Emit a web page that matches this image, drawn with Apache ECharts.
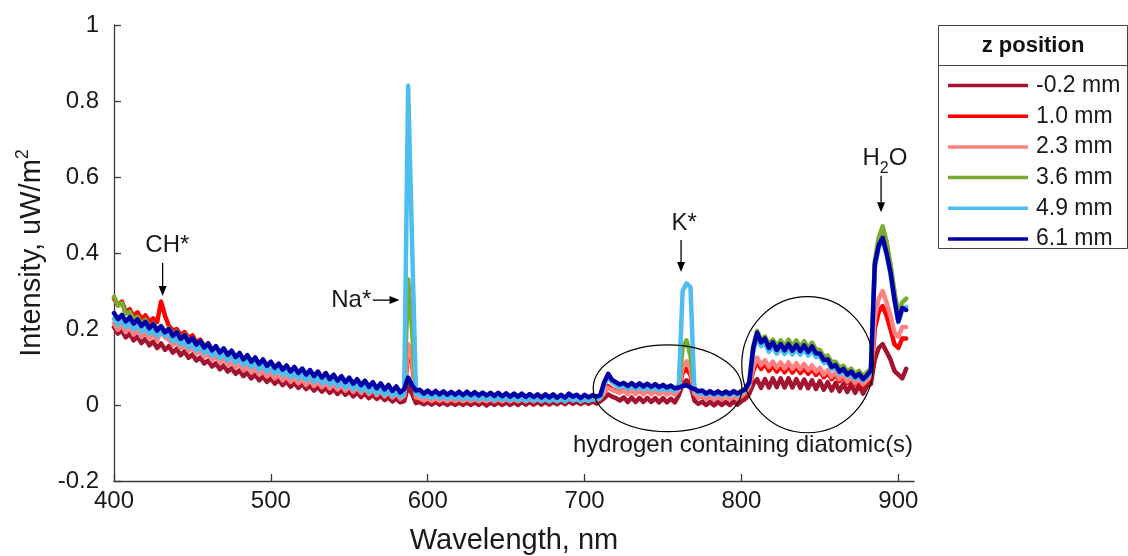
<!DOCTYPE html>
<html>
<head>
<meta charset="utf-8">
<title>Emission spectra by z position</title>
<script src="https://cdn.jsdelivr.net/npm/echarts@6/dist/echarts.min.js"></script>
<style>
  html, body { margin: 0; padding: 0; background: #fff; }
  #chart { width: 1128px; height: 556px; }
</style>
</head>
<body>
<div id="chart"></div>
<script>
// Spectrometer sampling grid: 400 nm to 905 nm, 2.5 nm per sample (203 samples).
const waveStart = 400;
const waveStep = 2.5;
const sampleCount = 203;
const wavelength = Array.from({ length: sampleCount }, (_, i) => waveStart + waveStep * i);

// Measured intensity (uW/m^2) at each sample, one array per probe z position.
const zNeg02 = [
  .205,.188,.196,.178,.188,.170,.180,.163,.174,.157,
  .167,.150,.162,.145,.155,.138,.148,.131,.141,.124,
  .133,.117,.125,.109,.117,.101,.110,.094,.104,.088,
  .097,.082,.091,.076,.085,.070,.080,.065,.075,.061,
  .070,.056,.066,.052,.062,.048,.058,.045,.055,.042,
  .051,.038,.048,.035,.045,.032,.042,.029,.040,.027,
  .036,.023,.033,.021,.030,.018,.027,.016,.024,.013,
  .020,.009,.017,.007,.010,.050,.030,.005,.008,.002,
  .008,.001,.008,.001,.007,.000,.007,.000,.007,.000,
  .007,.000,.007,.000,.007,-.001,.007,.000,.007,.000,
  .007,.000,.007,.000,.008,.001,.008,.001,.008,.001,
  .008,.001,.008,.002,.009,.002,.010,.003,.009,.002,
  .009,.003,.009,.004,.010,.018,.028,.022,.018,.012,
  .020,.008,.020,.008,.019,.008,.019,.008,.018,.007,
  .018,.007,.017,.007,.025,.055,.065,.055,.012,.003,
  .009,.000,.008,-.001,.008,.000,.008,.000,.009,.001,
  .010,.016,.030,.055,.068,.045,.068,.046,.070,.047,
  .070,.046,.070,.046,.068,.045,.067,.044,.065,.042,
  .063,.040,.060,.038,.058,.036,.056,.034,.054,.032,
  .052,.030,.050,.055,.120,.150,.160,.140,.120,.090,
  .080,.070,.095
];
const z10 = [
  .280,.262,.272,.245,.252,.232,.244,.226,.236,.219,
  .228,.218,.272,.235,.208,.196,.200,.184,.192,.176,
  .183,.165,.172,.154,.162,.144,.152,.135,.143,.126,
  .133,.115,.124,.106,.114,.097,.105,.089,.097,.082,
  .089,.074,.083,.068,.077,.063,.072,.058,.067,.054,
  .063,.050,.060,.047,.056,.044,.053,.041,.050,.038,
  .046,.034,.043,.031,.040,.028,.037,.025,.034,.022,
  .031,.019,.028,.016,.022,.140,.110,.018,.016,.011,
  .016,.009,.016,.009,.015,.009,.015,.009,.015,.009,
  .015,.009,.015,.009,.015,.009,.015,.009,.015,.009,
  .015,.009,.015,.010,.016,.010,.016,.010,.016,.010,
  .016,.010,.016,.010,.016,.011,.018,.012,.017,.011,
  .017,.011,.017,.013,.018,.035,.050,.042,.038,.033,
  .040,.031,.040,.031,.039,.030,.039,.030,.038,.030,
  .037,.029,.036,.029,.040,.085,.095,.080,.030,.020,
  .024,.016,.023,.015,.023,.015,.023,.016,.024,.017,
  .024,.030,.045,.090,.115,.095,.108,.090,.104,.088,
  .102,.086,.102,.085,.100,.084,.098,.082,.095,.079,
  .090,.073,.085,.068,.080,.063,.075,.058,.070,.054,
  .066,.050,.062,.070,.200,.245,.260,.235,.200,.160,
  .150,.175,.175
];
const z23 = [
  .215,.198,.210,.192,.204,.186,.198,.180,.192,.174,
  .186,.170,.196,.178,.172,.158,.165,.150,.158,.143,
  .151,.135,.143,.127,.135,.119,.128,.112,.121,.105,
  .115,.099,.108,.092,.102,.086,.096,.080,.090,.075,
  .085,.070,.080,.065,.076,.061,.072,.057,.068,.053,
  .065,.050,.062,.047,.059,.044,.056,.041,.053,.038,
  .050,.035,.047,.032,.044,.029,.041,.026,.038,.023,
  .034,.020,.031,.017,.024,.160,.120,.020,.018,.012,
  .018,.011,.018,.011,.017,.010,.017,.010,.017,.010,
  .017,.010,.017,.010,.016,.010,.016,.010,.016,.010,
  .016,.010,.016,.010,.016,.010,.016,.010,.016,.010,
  .016,.010,.016,.010,.016,.010,.018,.012,.016,.010,
  .016,.011,.016,.013,.018,.032,.045,.040,.036,.032,
  .038,.029,.038,.029,.037,.028,.037,.028,.036,.028,
  .035,.027,.034,.027,.040,.100,.115,.095,.030,.020,
  .024,.016,.023,.015,.023,.015,.023,.016,.024,.017,
  .025,.032,.050,.100,.125,.105,.118,.100,.114,.098,
  .112,.096,.112,.095,.110,.094,.108,.092,.104,.088,
  .098,.080,.092,.074,.086,.068,.080,.062,.075,.058,
  .070,.055,.066,.075,.230,.280,.300,.270,.235,.190,
  .180,.205,.205
];
const z36 = [
  .285,.262,.268,.240,.245,.225,.232,.213,.224,.205,
  .215,.198,.208,.192,.202,.184,.194,.176,.186,.168,
  .176,.158,.168,.150,.160,.142,.152,.135,.145,.128,
  .138,.121,.131,.114,.124,.107,.118,.101,.112,.095,
  .105,.089,.099,.083,.094,.078,.089,.073,.085,.069,
  .080,.064,.076,.060,.072,.056,.068,.052,.064,.049,
  .060,.045,.056,.041,.052,.037,.048,.033,.045,.030,
  .041,.028,.038,.025,.034,.330,.200,.032,.030,.024,
  .028,.020,.027,.019,.026,.018,.025,.018,.025,.017,
  .024,.017,.024,.016,.023,.016,.022,.015,.022,.015,
  .021,.014,.021,.014,.020,.013,.020,.013,.020,.013,
  .019,.012,.019,.012,.019,.012,.021,.014,.019,.012,
  .018,.013,.018,.016,.022,.054,.078,.064,.057,.052,
  .056,.048,.055,.047,.054,.046,.053,.045,.052,.044,
  .050,.043,.048,.042,.048,.150,.170,.130,.045,.034,
  .037,.030,.036,.029,.036,.029,.036,.030,.037,.031,
  .037,.043,.060,.155,.195,.172,.180,.160,.172,.155,
  .170,.154,.172,.155,.170,.153,.168,.150,.164,.146,
  .145,.128,.130,.112,.114,.098,.103,.088,.096,.082,
  .090,.076,.086,.095,.380,.440,.470,.430,.370,.300,
  .240,.270,.280
];
const z49 = [
  .227,.211,.222,.205,.216,.199,.210,.193,.204,.187,
  .198,.181,.195,.182,.186,.167,.177,.159,.169,.151,
  .161,.144,.154,.136,.147,.129,.140,.123,.134,.117,
  .128,.111,.122,.105,.116,.099,.110,.093,.105,.088,
  .099,.083,.094,.078,.089,.073,.085,.069,.081,.065,
  .077,.061,.073,.057,.069,.053,.065,.049,.061,.045,
  .057,.041,.053,.037,.049,.033,.045,.029,.042,.026,
  .038,.024,.034,.021,.030,.840,.430,.030,.027,.021,
  .026,.018,.025,.017,.024,.016,.023,.016,.023,.015,
  .022,.015,.022,.014,.021,.014,.020,.013,.020,.013,
  .019,.012,.019,.012,.018,.011,.018,.011,.018,.011,
  .017,.010,.017,.010,.017,.010,.019,.012,.017,.010,
  .016,.011,.016,.014,.020,.052,.075,.060,.052,.047,
  .051,.043,.050,.042,.049,.041,.048,.040,.047,.039,
  .045,.038,.043,.037,.045,.300,.320,.310,.040,.030,
  .033,.026,.032,.025,.031,.025,.031,.025,.032,.026,
  .032,.038,.055,.140,.180,.155,.165,.140,.155,.135,
  .150,.134,.150,.133,.148,.132,.147,.130,.144,.126,
  .128,.110,.113,.094,.099,.082,.089,.075,.082,.068,
  .077,.064,.074,.085,.360,.415,.435,.395,.345,.275,
  .218,.250,.258
];
const z61 = [
  .242,.226,.237,.220,.231,.214,.225,.208,.219,.202,
  .213,.196,.207,.191,.200,.182,.192,.174,.184,.166,
  .176,.159,.169,.151,.162,.144,.155,.138,.149,.132,
  .143,.126,.137,.120,.131,.114,.125,.108,.120,.103,
  .114,.098,.109,.093,.104,.088,.100,.084,.096,.080,
  .092,.076,.088,.072,.084,.068,.080,.064,.076,.060,
  .072,.056,.068,.052,.064,.048,.060,.044,.057,.041,
  .053,.037,.049,.033,.042,.072,.052,.038,.040,.030,
  .038,.029,.037,.028,.036,.027,.035,.027,.035,.026,
  .035,.026,.034,.025,.033,.025,.032,.024,.032,.023,
  .031,.022,.030,.022,.030,.021,.029,.021,.028,.020,
  .028,.020,.028,.019,.027,.019,.030,.022,.027,.018,
  .027,.020,.026,.022,.026,.060,.082,.066,.060,.054,
  .058,.050,.058,.049,.057,.049,.056,.048,.055,.047,
  .053,.046,.051,.044,.046,.050,.052,.046,.042,.036,
  .038,.030,.036,.029,.036,.029,.035,.029,.036,.030,
  .036,.042,.060,.150,.190,.165,.175,.150,.165,.145,
  .160,.144,.160,.143,.158,.142,.157,.140,.154,.136,
  .135,.118,.120,.100,.105,.088,.095,.080,.088,.074,
  .082,.068,.078,.090,.370,.420,.440,.400,.350,.280,
  .220,.255,.250
];

const seriesNames = ['-0.2 mm', '1.0 mm', '2.3 mm', '3.6 mm', '4.9 mm', '6.1 mm'];
const seriesValues = [zNeg02, z10, z23, z36, z49, z61];
const seriesColors = ['#A2142F', '#FF0000', '#FF8282', '#77AC30', '#4DBEEE', '#0000A6'];

const xTicks = [400, 500, 600, 700, 800, 900];
const yTickLabels = ['-0.2', '0', '0.2', '0.4', '0.6', '0.8', '1'];
const yMin = -0.2, yMax = 1, yStep = 0.2;

const FONT = '"Liberation Sans", Arial, Helvetica, sans-serif';
const AXIS_COLOR = '#3a3a3a';
const TEXT_COLOR = '#1a1a1a';

const chart = echarts.init(document.getElementById('chart'), null, { renderer: 'canvas' });

chart.setOption({
  animation: false,
  backgroundColor: '#ffffff',
  grid: { left: 114, right: 214, top: 25, bottom: 75, outerBoundsMode: 'none' },
  xAxis: {
    type: 'value',
    min: 400, max: 910, interval: 100,
    axisLine: { show: true, onZero: false, lineStyle: { color: AXIS_COLOR, width: 1.3 } },
    axisTick: { show: true, inside: true, length: 7, customValues: xTicks,
                lineStyle: { color: AXIS_COLOR, width: 1.3 } },
    axisLabel: { customValues: xTicks, margin: 8, fontSize: 24, color: TEXT_COLOR, fontFamily: FONT },
    splitLine: { show: false },
    name: 'Wavelength, nm',
    nameLocation: 'middle',
    nameGap: 45,
    nameTextStyle: { fontSize: 29, color: TEXT_COLOR, fontFamily: FONT }
  },
  yAxis: {
    type: 'value',
    min: yMin, max: yMax, interval: yStep,
    axisLine: { show: true, onZero: false, lineStyle: { color: AXIS_COLOR, width: 1.3 } },
    axisTick: { show: true, inside: true, length: 7, lineStyle: { color: AXIS_COLOR, width: 1.3 } },
    axisLabel: {
      margin: 15, fontSize: 24, color: TEXT_COLOR, fontFamily: FONT,
      formatter: v => yTickLabels[Math.round((v - yMin) / yStep)]
    },
    splitLine: { show: false },
    name: '{t|Intensity, uW/m}{sup|2}',
    nameLocation: 'middle',
    nameGap: 55,
    nameTextStyle: {
      color: TEXT_COLOR, fontFamily: FONT,
      rich: {
        t: { fontSize: 29, lineHeight: 36, verticalAlign: 'middle', fontFamily: FONT, color: TEXT_COLOR },
        sup: { fontSize: 18, lineHeight: 18, verticalAlign: 'top', fontFamily: FONT, color: TEXT_COLOR }
      }
    }
  },
  legend: {
    orient: 'vertical',
    left: 948, top: 74,
    padding: 0,
    itemWidth: 80, itemHeight: 3.5, itemGap: 7.7,
    icon: 'rect',
    selectedMode: false,
    data: seriesNames,
    textStyle: { fontSize: 23, color: TEXT_COLOR, fontFamily: FONT, padding: [0, 0, 0, 3] }
  },
  series: seriesNames.map((name, k) => ({
    name,
    type: 'line',
    data: wavelength.map((w, i) => [w, seriesValues[k][i]]),
    showSymbol: false,
    symbol: 'none',
    lineStyle: { width: 4.5, color: seriesColors[k], join: 'round', cap: 'round' },
    itemStyle: { color: seriesColors[k] },
    emphasis: { disabled: true },
    z: 2 + k
  }))
});

// Annotations, placed in data units (nm, uW/m^2).
const arrowNotes = [
  { from: [431, 0.374], to: [431, 0.287] },   // CH*
  { from: [565, 0.276], to: [582, 0.276] },   // Na*
  { from: [761.5, 0.434], to: [761.5, 0.35] },// K*
  { from: [889, 0.603], to: [889, 0.507] }    // H2O
];
const textNotes = [
  { at: [434, 0.42], text: 'CH*', align: 'center' },
  { at: [564, 0.276], text: 'Na*', align: 'right' },
  { at: [763.5, 0.478], text: 'K*', align: 'center' },
  { at: [891.5, 0.648], text: '{b|H}{sub|2}{b|O}', align: 'center' },
  { at: [801, -0.105], text: 'hydrogen containing diatomic(s)', align: 'center' }
];
const ellipseNotes = [
  { center: [752.9, 0.044], rx: 47.4, ry: 0.114 },
  { center: [842.1, 0.106], rx: 41.9, ry: 0.179 }
];

function toPx(p) { return chart.convertToPixel({ gridIndex: 0 }, p); }

function buildAnnotations() {
  const els = [];

  ellipseNotes.forEach(e => {
    const c = toPx(e.center);
    const r = toPx([e.center[0] + e.rx, e.center[1] + e.ry]);
    els.push({
      type: 'ellipse', z: 100, silent: true,
      shape: { cx: c[0], cy: c[1], rx: Math.abs(r[0] - c[0]), ry: Math.abs(r[1] - c[1]) },
      style: { fill: 'none', stroke: '#000', lineWidth: 1.2 }
    });
  });

  arrowNotes.forEach(a => {
    const p1 = toPx(a.from), p2 = toPx(a.to);
    const dx = p2[0] - p1[0], dy = p2[1] - p1[1];
    const len = Math.hypot(dx, dy);
    const ux = dx / len, uy = dy / len;
    const head = 10, half = 4;
    const bx = p2[0] - ux * head, by = p2[1] - uy * head;
    els.push({
      type: 'line', z: 100, silent: true,
      shape: { x1: p1[0], y1: p1[1], x2: bx, y2: by },
      style: { stroke: '#000', lineWidth: 1.3 }
    });
    els.push({
      type: 'polygon', z: 100, silent: true,
      shape: { points: [[p2[0], p2[1]], [bx - uy * half, by + ux * half], [bx + uy * half, by - ux * half]] },
      style: { fill: '#000' }
    });
  });

  textNotes.forEach(t => {
    const p = toPx(t.at);
    els.push({
      type: 'text', z: 100, silent: true,
      x: p[0], y: p[1],
      style: {
        text: t.text, align: t.align, verticalAlign: 'middle',
        fontSize: 24, fontFamily: FONT, fill: TEXT_COLOR,
        rich: {
          b: { fontSize: 24, lineHeight: 36, verticalAlign: 'middle', fontFamily: FONT, fill: TEXT_COLOR },
          sub: { fontSize: 16, lineHeight: 16, verticalAlign: 'bottom', fontFamily: FONT, fill: TEXT_COLOR }
        }
      }
    });
  });

  // Legend frame with its title row (drawn behind the legend entries).
  els.push({
    type: 'rect', z: 0, silent: true,
    shape: { x: 938.5, y: 25.5, width: 189, height: 223 },
    style: { fill: 'none', stroke: '#444', lineWidth: 1 }
  });
  els.push({
    type: 'line', z: 0, silent: true,
    shape: { x1: 938.5, y1: 65.5, x2: 1127.5, y2: 65.5 },
    style: { stroke: '#444', lineWidth: 1 }
  });
  els.push({
    type: 'text', z: 0, silent: true,
    x: 1033, y: 46,
    style: { text: 'z position', align: 'center', verticalAlign: 'middle',
             fontSize: 22, fontWeight: 'bold', fontFamily: FONT, fill: '#111' }
  });

  chart.setOption({ graphic: { elements: els } });
}

buildAnnotations();
</script>
</body>
</html>
